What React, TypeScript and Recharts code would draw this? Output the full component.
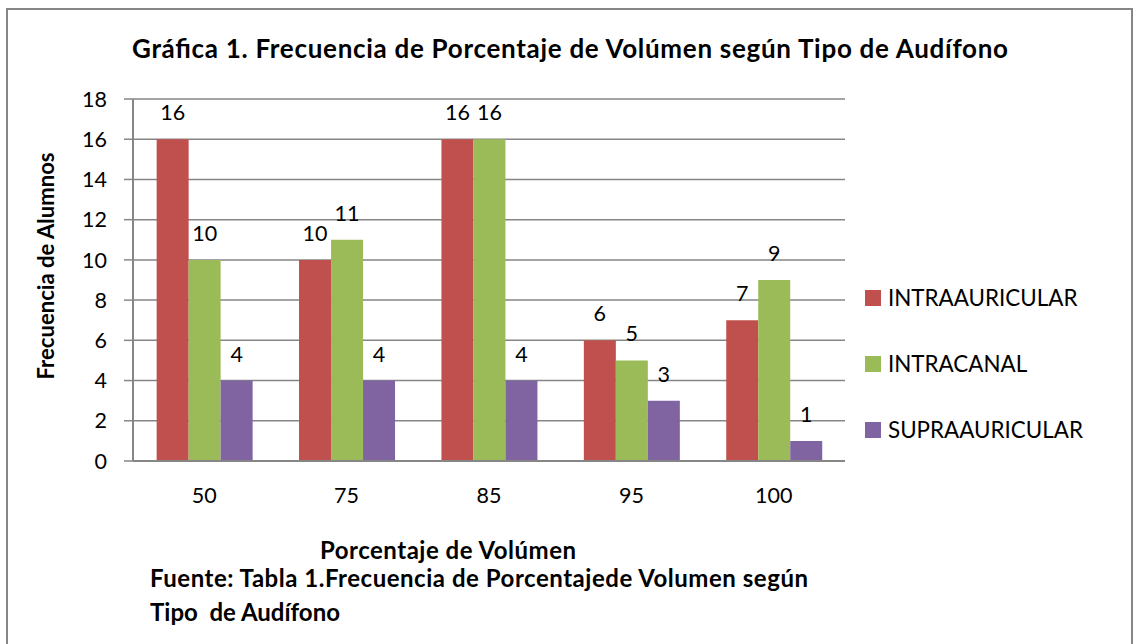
import { Bar, BarChart, CartesianGrid, LabelList, XAxis, YAxis } from 'recharts'

const categories = ['50', '75', '85', '95', '100']
const intraauricular = [16, 10, 16, 6, 7]
const intracanal = [10, 11, 16, 5, 9]
const supraauricular = [4, 4, 4, 3, 1]
const yTicks = [0, 2, 4, 6, 8, 10, 12, 14, 16, 18]

const series = [
  { key: 'intraauricular', name: 'INTRAAURICULAR', color: '#C0504D' },
  { key: 'intracanal', name: 'INTRACANAL', color: '#9BBB59' },
  { key: 'supraauricular', name: 'SUPRAAURICULAR', color: '#8064A2' },
]

const data = categories.map((c, i) => ({
  cat: c,
  intraauricular: intraauricular[i],
  intracanal: intracanal[i],
  supraauricular: supraauricular[i],
}))

const FONT = 'Lato, "Open Sans", sans-serif'
const GRID = '#868686'

export default function App() {
  return (
    <div style={{ position: 'absolute', left: 0, top: 0, width: 1136, height: 644, background: '#fff', fontFamily: FONT }}>
      <BarChart
        width={1136}
        height={644}
        data={data}
        margin={{ top: 99, right: 291, bottom: 153, left: 63 }}
        barCategoryGap="16.6%"
        barGap={0}
      >
        <CartesianGrid vertical={false} stroke={GRID} strokeWidth={1.5} />
        <XAxis
          dataKey="cat"
          height={30}
          tickLine={false}
          axisLine={{ stroke: GRID, strokeWidth: 2 }}
          tickMargin={21}
          tick={{ fill: '#000', fontSize: 21.5, fontFamily: FONT }}
        />
        <YAxis
          width={70}
          domain={[0, 18]}
          ticks={yTicks}
          interval={0}
          tickSize={9}
          tickMargin={17}
          tickLine={{ stroke: GRID, strokeWidth: 1.5 }}
          axisLine={{ stroke: GRID, strokeWidth: 2 }}
          tick={{ fill: '#000', fontSize: 21.5, fontFamily: FONT }}
        />
        {series.map((s) => (
          <Bar key={s.key} dataKey={s.key} name={s.name} fill={s.color} isAnimationActive={false}>
            <LabelList dataKey={s.key} position="top" offset={19} fill="#000" fontSize={21.5} fontFamily={FONT} />
          </Bar>
        ))}
      </BarChart>
      <svg
        width={1136}
        height={644}
        style={{ position: 'absolute', left: 0, top: 0, pointerEvents: 'none', fontFamily: FONT }}
      >
        <rect x={7} y={9} width={1125} height={650} fill="none" stroke={GRID} strokeWidth={2} />
        <text x={132} y={58} fontSize={26} fontWeight={700} textLength={876} lengthAdjust="spacing">
          Gráfica 1. Frecuencia de Porcentaje de Volúmen según Tipo de Audífono
        </text>
        <text
          transform="translate(54, 266) rotate(-90)"
          textAnchor="middle"
          fontSize={22}
          fontWeight={700}
          textLength={227}
          lengthAdjust="spacing"
        >
          Frecuencia de Alumnos
        </text>
        <text x={320} y={559} fontSize={24} fontWeight={700} textLength={256} lengthAdjust="spacing">
          Porcentaje de Volúmen
        </text>
        <text x={150} y={587} fontSize={24} fontWeight={700} textLength={658} lengthAdjust="spacing">
          Fuente: Tabla 1.Frecuencia de Porcentajede Volumen según
        </text>
        <text x={150} y={621} fontSize={24} fontWeight={700} style={{ whiteSpace: 'pre' }}>
          {'Tipo  de Audífono'}
        </text>
        {series.map((s, i) => (
          <g key={s.key}>
            <rect x={865} y={290 + i * 66} width={16} height={16} fill={s.color} />
            <text x={888} y={306 + i * 66} fontSize={22.4}>
              {s.name}
            </text>
          </g>
        ))}
      </svg>
    </div>
  )
}
